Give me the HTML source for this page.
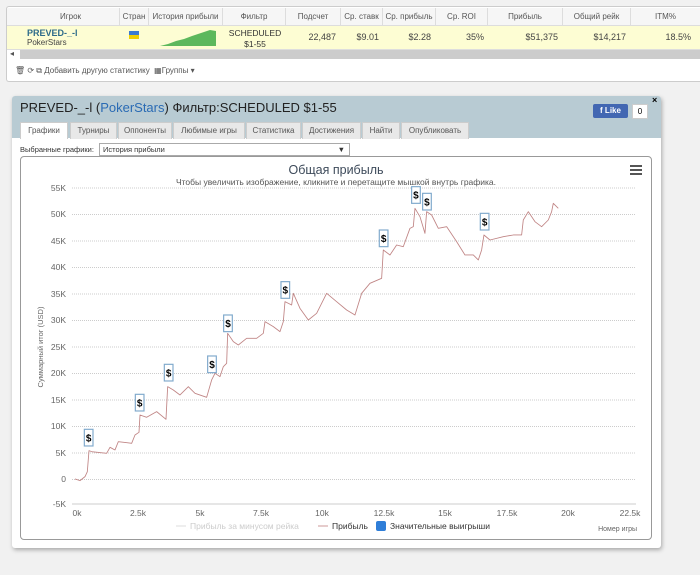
<!DOCTYPE html>
<html><head><meta charset="utf-8"><style>
body{margin:0;width:700px;height:575px;background:#f1f1f1;font-family:"Liberation Sans","DejaVu Sans",sans-serif;position:relative;overflow:hidden}
.a{position:absolute}
.top{left:6px;top:6px;width:694px;height:74px;background:#fff;border:1px solid #ccc;border-right:none;border-radius:3px 0 0 3px}
.hd{top:8px;height:17px;font-size:8px;color:#555;text-align:center;line-height:17px;border-right:1px solid #ddd;background:#f6f6f6}
.rw{top:19px;height:23px;background:#fdfdd3;border-top:1px solid #ddd;border-bottom:1px solid #ddd}
.c{font-size:9px;color:#444;top:26px;text-align:right}
.tab{top:122px;height:16px;background:#e8e8e8;border:1px solid #ccc;border-bottom:none;font-size:8px;color:#555;line-height:16px;text-align:center}
</style></head><body>
<div class="a top"></div>
<div class="a hd" style="left:7px;width:15px"></div>
<div class="a hd" style="left:22px;width:97px">Игрок</div>
<div class="a hd" style="left:120px;width:28px">Стран</div>
<div class="a hd" style="left:149px;width:73px">История прибыли</div>
<div class="a hd" style="left:223px;width:62px">Фильтр</div>
<div class="a hd" style="left:286px;width:54px">Подсчет</div>
<div class="a hd" style="left:341px;width:41px">Ср. ставк</div>
<div class="a hd" style="left:383px;width:52px">Ср. прибыль</div>
<div class="a hd" style="left:436px;width:51px">Ср. ROI</div>
<div class="a hd" style="left:488px;width:74px">Прибыль</div>
<div class="a hd" style="left:563px;width:67px">Общий рейк</div>
<div class="a hd" style="left:631px;width:69px">ITM%</div>
<div class="a rw" style="left:7px;width:693px;top:25px"></div>
<div class="a" style="left:27px;top:28px;font-size:9px;font-weight:bold;color:#2d6b8a">PREVED-_-l</div>
<div class="a" style="left:27px;top:38px;font-size:8px;color:#444">PokerStars</div>
<div class="a" style="left:129px;top:31px;width:10px;height:4px;background:#3b7bd0"></div>
<div class="a" style="left:129px;top:35px;width:10px;height:4px;background:#f0d000"></div>
<svg class="a" style="left:160px;top:29px" width="56" height="17"><polygon points="0,17 8,15 16,12 24,10 32,7 38,5 44,3 50,1 56,2 56,17" fill="#5cb85c"/></svg>
<div class="a" style="left:228px;top:28px;font-size:8.5px;color:#333;text-align:center;width:54px;line-height:11px">SCHEDULED<br>$1-55</div>
<div class="a c" style="left:286px;width:50px;top:32px">22,487</div>
<div class="a c" style="left:341px;width:38px;top:32px">$9.01</div>
<div class="a c" style="left:383px;width:48px;top:32px">$2.28</div>
<div class="a c" style="left:436px;width:48px;top:32px">35%</div>
<div class="a c" style="left:488px;width:70px;top:32px">$51,375</div>
<div class="a c" style="left:563px;width:63px;top:32px">$14,217</div>
<div class="a c" style="left:631px;width:60px;top:32px">18.5%</div>
<div class="a" style="left:20px;top:50px;width:680px;height:9px;background:#ccc"></div>
<div class="a" style="left:10px;top:49px;font-size:8px;color:#555">◂</div>
<div class="a" style="left:15px;top:66px;font-size:8px;color:#555">🗑 ⟳ ⧉ Добавить другую статистику &nbsp;▦Группы ▾</div>

<div class="a" style="left:12px;top:96px;width:649px;height:452px;background:#fff;border-radius:3px;box-shadow:1px 2px 4px rgba(0,0,0,.3)"></div>
<div class="a" style="left:12px;top:96px;width:649px;height:42px;background:#b8cbd3;border-radius:3px 3px 0 0"></div>
<div class="a" style="left:20px;top:100px;font-size:13px;color:#222">PREVED-_-l (<span style="color:#2a6bb4">PokerStars</span>) Фильтр:SCHEDULED $1-55</div>
<div class="a" style="left:593px;top:104px;width:35px;height:14px;background:#4267b2;color:#fff;font-size:8px;font-weight:bold;line-height:14px;text-align:center;border-radius:2px">f Like</div>
<div class="a" style="left:632px;top:104px;width:14px;height:13px;background:#fff;border:1px solid #ccc;font-size:8px;line-height:13px;text-align:center">0</div>
<div class="a" style="left:652px;top:95px;font-size:9px;font-weight:bold">×</div>
<div class="a tab" style="left:20px;width:46px;background:#fff">Графики</div>
<div class="a tab" style="left:70px;width:45px">Турниры</div>
<div class="a tab" style="left:118px;width:52px">Оппоненты</div>
<div class="a tab" style="left:173px;width:70px">Любимые игры</div>
<div class="a tab" style="left:246px;width:53px">Статистика</div>
<div class="a tab" style="left:302px;width:57px">Достижения</div>
<div class="a tab" style="left:362px;width:36px">Найти</div>
<div class="a tab" style="left:401px;width:66px">Опубликовать</div>
<div class="a" style="left:20px;top:145px;font-size:7.5px;color:#333">Выбранные графики:</div>
<div class="a" style="left:99px;top:143px;width:246px;height:11px;border:1px solid #aaa;font-size:7.5px;color:#333;line-height:11px;padding-left:3px;box-sizing:content-box">История прибыли<span style="position:absolute;right:4px">▼</span></div>
<div class="a" style="left:20px;top:156px;width:630px;height:382px;border:1px solid #999;border-radius:4px;background:#fff"></div>

<svg class="a" style="left:0;top:0" width="700" height="575">
<text x="336" y="174" font-size="12.5" fill="#3d4a5a" text-anchor="middle">Общая прибыль</text>
<text x="336" y="185" font-size="8.5" fill="#555" text-anchor="middle">Чтобы увеличить изображение, кликните и перетащите мышкой внутрь графика.</text>
<g fill="#555"><rect x="630" y="165" width="12" height="2"/><rect x="630" y="169" width="12" height="2"/><rect x="630" y="173" width="12" height="2"/></g>
<g stroke="#ccc" stroke-dasharray="1,1" stroke-width="1">
<line x1="72" x2="636" y1="188" y2="188"/><line x1="72" x2="636" y1="214.5" y2="214.5"/><line x1="72" x2="636" y1="241" y2="241"/><line x1="72" x2="636" y1="267.5" y2="267.5"/><line x1="72" x2="636" y1="294" y2="294"/><line x1="72" x2="636" y1="320.5" y2="320.5"/><line x1="72" x2="636" y1="347" y2="347"/><line x1="72" x2="636" y1="373.5" y2="373.5"/><line x1="72" x2="636" y1="400" y2="400"/><line x1="72" x2="636" y1="426.5" y2="426.5"/><line x1="72" x2="636" y1="453" y2="453"/><line x1="72" x2="636" y1="479.5" y2="479.5"/>
</g>
<line x1="72" x2="636" y1="504" y2="504" stroke="#ccc"/>
<g font-size="8.5" fill="#666" text-anchor="end">
<text x="66" y="191">55K</text><text x="66" y="217">50K</text><text x="66" y="244">45K</text><text x="66" y="270">40K</text><text x="66" y="297">35K</text><text x="66" y="323">30K</text><text x="66" y="350">25K</text><text x="66" y="376">20K</text><text x="66" y="403">15K</text><text x="66" y="429">10K</text><text x="66" y="456">5K</text><text x="66" y="482">0</text><text x="66" y="507">-5K</text>
</g>
<text transform="translate(43,347) rotate(-90)" font-size="7.5" fill="#666" text-anchor="middle">Суммарный итог (USD)</text>
<g font-size="8.5" fill="#666" text-anchor="middle">
<text x="77" y="516">0k</text><text x="138" y="516">2.5k</text><text x="200" y="516">5k</text><text x="261" y="516">7.5k</text><text x="322" y="516">10k</text><text x="384" y="516">12.5k</text><text x="445" y="516">15k</text><text x="507" y="516">17.5k</text><text x="568" y="516">20k</text><text x="630" y="516">22.5k</text>
</g>
<g font-size="8.5">
<line x1="176" x2="186" y1="526" y2="526" stroke="#ddd"/><text x="190" y="529" fill="#ccc">Прибыль за минусом рейка</text>
<line x1="318" x2="328" y1="526" y2="526" stroke="#c99"/><text x="332" y="529" fill="#333">Прибыль</text>
<rect x="376" y="521" width="10" height="10" rx="2" fill="#2f7ed8"/><text x="390" y="529" fill="#333">Значительные выигрыши</text>
<text x="637" y="531" font-size="7" fill="#666" text-anchor="end">Номер игры</text>
</g>
<g transform="translate(60,180) scale(0.3333)">
<polyline fill="none" stroke="#c08585" stroke-width="2.6" stroke-linejoin="round" points="45,897 60,902 75,890 82,875 87,812 95,815 140,820 150,802 165,810 175,785 215,790 225,765 237,757 240,705 260,712 290,695 318,718 323,620 340,630 360,645 385,620 405,640 440,652 455,600 465,580 480,590 490,560 500,550 503,460 520,485 535,495 560,475 590,475 610,460 615,425 640,440 660,455 670,425 675,365 695,375 700,340 720,385 745,420 770,400 800,340 830,365 860,390 885,405 905,340 930,310 965,295 970,210 990,225 1010,195 1030,200 1050,145 1060,140 1065,85 1080,110 1095,160 1100,95 1115,105 1135,145 1160,140 1190,185 1215,225 1240,225 1255,240 1265,210 1272,165 1290,180 1330,170 1360,165 1385,165 1390,120 1405,95 1425,125 1445,140 1465,120 1475,95 1480,70 1495,85"/>
<g fill="#fff" stroke="#7fa9cc" stroke-width="3.5">
<rect x="73" y="748" width="26" height="50"/><rect x="226" y="643" width="26" height="50"/><rect x="313" y="553" width="26" height="50"/><rect x="443" y="528" width="26" height="50"/><rect x="491" y="405" width="26" height="50"/><rect x="663" y="305" width="26" height="50"/><rect x="958" y="150" width="26" height="50"/><rect x="1055" y="20" width="26" height="50"/><rect x="1088" y="40" width="26" height="50"/><rect x="1261" y="100" width="26" height="50"/>
</g>
<g fill="#000" font-size="30" font-weight="bold" text-anchor="middle">
<text x="86" y="784">$</text><text x="239" y="679">$</text><text x="326" y="589">$</text><text x="456" y="564">$</text><text x="504" y="441">$</text><text x="676" y="341">$</text><text x="971" y="186">$</text><text x="1068" y="56">$</text><text x="1101" y="76">$</text><text x="1274" y="136">$</text>
</g>
</g>
</svg>
</body></html>
